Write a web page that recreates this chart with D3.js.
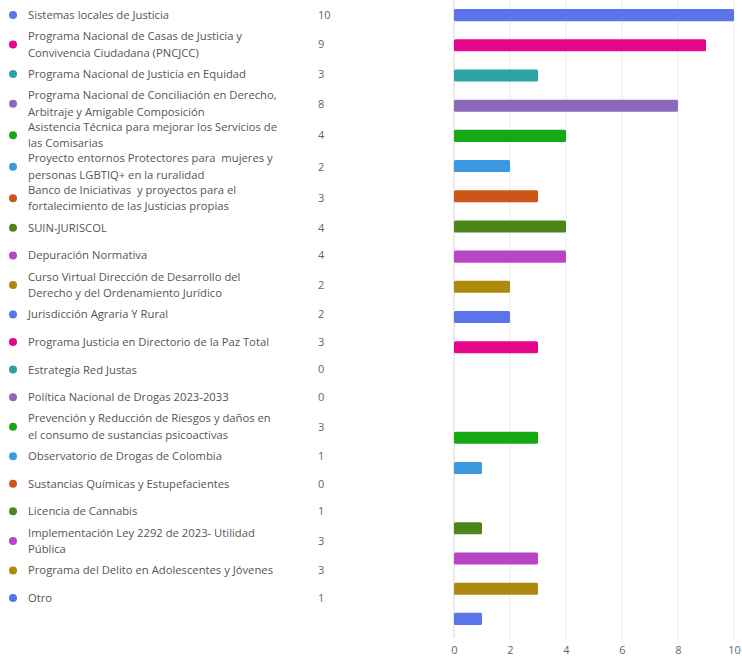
<!DOCTYPE html>
<html>
<head>
<meta charset="utf-8">
<script src="https://cdn.jsdelivr.net/npm/d3@7"></script>
<style>
  body { margin: 0; background: #fff; }
  text { font-family: "Open Sans", "Noto Sans", sans-serif; white-space: pre; }
</style>
</head>
<body>
<script>
// Categorias (saltos de linea como en la imagen)
var categorias = [
  "Sistemas locales de Justicia",
  "Programa Nacional de Casas de Justicia y\nConvivencia Ciudadana (PNCJCC)",
  "Programa Nacional de Justicia en Equidad",
  "Programa Nacional de Conciliación en Derecho,\nArbitraje y Amigable Composición",
  "Asistencia Técnica para mejorar los Servicios de\nlas Comisarias",
  "Proyecto entornos Protectores para  mujeres y\npersonas LGBTIQ+ en la ruralidad",
  "Banco de Iniciativas  y proyectos para el\nfortalecimiento de las Justicias propias",
  "SUIN-JURISCOL",
  "Depuración Normativa",
  "Curso Virtual Dirección de Desarrollo del\nDerecho y del Ordenamiento Jurídico",
  "Jurisdicción Agraria Y Rural",
  "Programa Justicia en Directorio de la Paz Total",
  "Estrategia Red Justas",
  "Política Nacional de Drogas 2023-2033",
  "Prevención y Reducción de Riesgos y daños en\nel consumo de sustancias psicoactivas",
  "Observatorio de Drogas de Colombia",
  "Sustancias Químicas y Estupefacientes",
  "Licencia de Cannabis",
  "Implementación Ley 2292 de 2023- Utilidad\nPública",
  "Programa del Delito en Adolescentes y Jóvenes",
  "Otro"
];
var valores = [10, 9, 3, 8, 4, 2, 3, 4, 4, 2, 2, 3, 0, 0, 3, 1, 0, 1, 3, 3, 1];
var colores = ["#5b74ea", "#e3068a", "#2aa3a5", "#8a69bd", "#16a815", "#3c98df", "#cc5618",
               "#4c861a", "#b845c4", "#ad8a0c"];
var ticksX = [0, 2, 4, 6, 8, 10];

var W = 742, H = 657;
var svg = d3.select("body").append("svg")
            .attr("width", W)
            .attr("height", H);

var idx = d3.range(categorias.length);
var couleur = i => colores[i % colores.length];

// Echelles des barres
var x = d3.scaleLinear().domain([0, 10]).range([454, 734]);
var y = d3.scaleBand().domain(idx).range([0, 634])
          .paddingInner(0.6).paddingOuter(0.3);

// grille verticale
svg.append("g").selectAll("line")
   .data(ticksX)
   .join("line")
   .attr("x1", d => x(d)).attr("x2", d => x(d))
   .attr("y1", 0).attr("y2", 638)
   .attr("stroke", d => d === 0 ? "#d4d4d4" : "#ebebeb")
   .attr("stroke-width", 1);

// axe X
var axeX = d3.axisBottom(x).tickValues(ticksX).tickSize(0).tickPadding(0);
var gx = svg.append("g").attr("transform", "translate(0,646)").call(axeX);
gx.select(".domain").remove();
gx.selectAll("text")
  .style("font-family", "'Open Sans', sans-serif")
  .style("font-size", "11px")
  .attr("fill", "#666");

// barres
svg.append("g").selectAll("rect")
   .data(idx)
   .join("rect")
   .attr("x", x(0))
   .attr("y", i => y(i))
   .attr("width", i => x(valores[i]) - x(0))
   .attr("height", y.bandwidth())
   .attr("rx", 1.5)
   .attr("fill", i => couleur(i));

// liste a gauche (legende)
var hSimple = 27.55, hDouble = 31.55;
var posY = 15 - hSimple / 2;
var centres = [];
categorias.forEach(function(c) {
  var h = c.indexOf("\n") >= 0 ? hDouble : hSimple;
  centres.push(posY + h / 2);
  posY += h;
});

var items = svg.append("g").selectAll("g")
   .data(idx)
   .join("g")
   .attr("transform", i => "translate(0," + centres[i] + ")");

items.append("circle")
     .attr("cx", 13).attr("cy", 0).attr("r", 4)
     .attr("fill", i => couleur(i));

items.each(function(i) {
  var lignes = categorias[i].split("\n");
  var t = d3.select(this).append("text")
            .attr("x", 28)
            .attr("fill", "#555")
            .style("font-size", "11.25px");
  lignes.forEach(function(l, k) {
    t.append("tspan")
     .attr("x", 28)
     .attr("y", (k - (lignes.length - 1) / 2) * 16.5)
     .attr("dy", "0.35em")
     .text(l);
  });
});

items.append("text")
     .attr("x", 318)
     .attr("dy", "0.35em")
     .attr("fill", "#666")
     .style("font-size", "11px")
     .text(i => valores[i]);
</script>
</body>
</html>
